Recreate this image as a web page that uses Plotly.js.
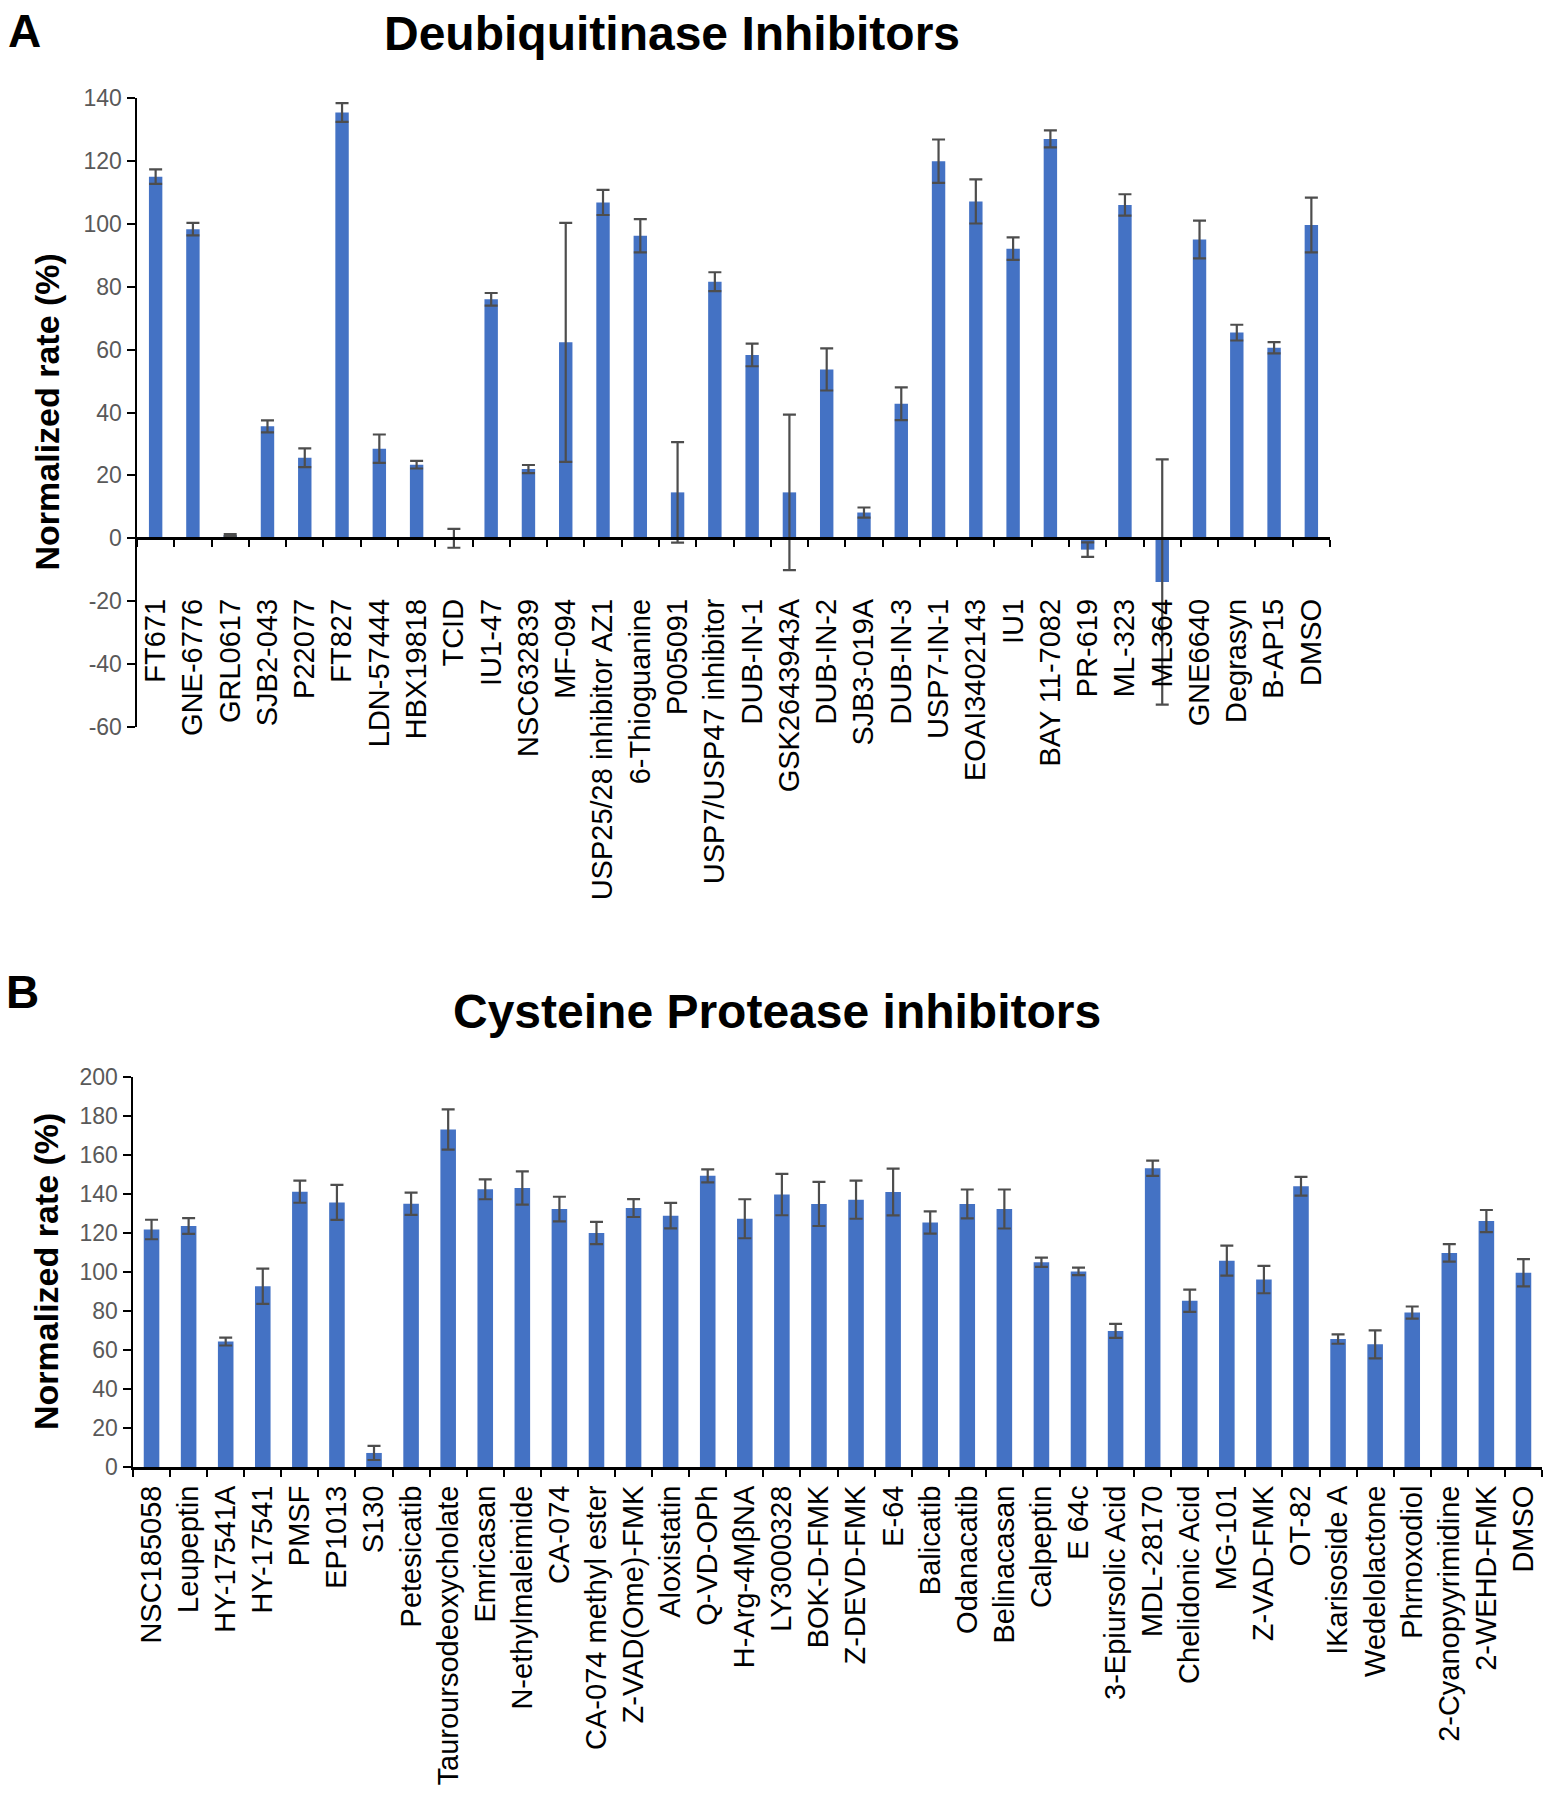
<!DOCTYPE html>
<html><head><meta charset="utf-8">
<script src="https://cdn.plot.ly/plotly-3.0.1.min.js"></script>
<style>html,body{margin:0;padding:0;background:#fff}</style>
</head><body><div id="chart" style="width:1544px;height:1800px"></div>
<script>
// Panel A: Deubiquitinase Inhibitors
const catsA = ["FT671","GNE-6776","GRL0617","SJB2-043","P22077","FT827","LDN-57444","HBX19818","TCID","IU1-47",
  "NSC632839","MF-094","USP25/28 inhibitor AZ1","6-Thioguanine","P005091","USP7/USP47 inhibitor","DUB-IN-1","GSK2643943A",
  "DUB-IN-2","SJB3-019A","DUB-IN-3","USP7-IN-1","EOAI3402143","IU1","BAY 11-7082","PR-619","ML-323","ML364",
  "GNE6640","Degrasyn","B-AP15","DMSO"];
const valsA = [115,98.3,1,35.6,25.6,135.4,28.5,23.4,0,76,
  22,62.3,106.8,96.2,14.6,81.6,58.3,14.6,
  53.7,8.2,42.8,119.9,107.1,92.1,127,-3.6,106,-13.9,
  95,65.4,60.6,99.6];
const errA = [2.3,2,0.3,1.9,3,3,4.5,1.2,3,2,
  1.3,38,4,5.3,16,3,3.6,24.7,
  6.7,1.6,5.2,6.9,7,3.6,2.7,2.3,3.4,39,
  6,2.5,1.8,8.7];
const yTickValsA = [-60,-40,-20,0,20,40,60,80,100,120,140];
const yTickTextA = ["-60","-40","-20","0","20","40","60","80","100","120","140"];

// Panel B: Cysteine Protease inhibitors
const catsB = ["NSC185058","Leupeptin","HY-17541A","HY-17541","PMSF","EP1013","S130","Petesicatib","Tauroursodeoxycholate",
  "Emricasan","N-ethylmaleimide","CA-074","CA-074 methyl ester","Z-VAD(Ome)-FMK","Aloxistatin","Q-VD-OPh","H-Arg-4MβNA",
  "LY3000328","BOK-D-FMK","Z-DEVD-FMK","E-64","Balicatib","Odanacatib","Belinacasan","Calpeptin","E 64c",
  "3-Epiursolic Acid","MDL-28170","Chelidonic Acid","MG-101","Z-VAD-FMK","OT-82","IKarisoside A","Wedelolactone",
  "Phrnoxodiol","2-Cyanopyyrimidine","2-WEHD-FMK","DMSO"];
const valsB = [121.8,123.6,64.3,92.7,141.2,135.7,7.2,135,173.1,
  142.4,143.1,132.3,120,132.8,128.9,149.3,127.3,
  139.7,134.9,137.1,141,125.4,134.9,132.3,105,100.3,
  69.8,153.2,85.3,105.8,96.1,144,65.6,62.9,
  79.2,109.8,126.1,99.6];
const errB = [5,4,2,9,5.7,9,3.6,5.7,10.3,
  5.1,8.5,6.3,5.7,4.6,6.5,3.3,10,
  10.6,11.3,9.8,12,5.7,7.4,10,2.4,1.9,
  3.6,3.9,5.7,7.7,7,4.8,2.4,7.2,
  3.1,4.5,5.7,7];

const titleA = "Deubiquitinase Inhibitors";
const titleB = "Cysteine Protease inhibitors";
const yTitle = "Normalized rate (%)";

const W = 1544, H = 1800;
const fx = x => x / W;
const fy = y => 1 - y / H;
const FONT = "Liberation Sans, Arial, sans-serif";
const BLUE = "#4472C4";
const ERR = "#4d4d4d";

const rangeA = [-60, 140];
const domA = [fy(727), fy(98)];
const zeroPosA = domA[0] + (0 - rangeA[0]) / (rangeA[1] - rangeA[0]) * (domA[1] - domA[0]);
const rangeB = [0, 200];
const domB = [fy(1467), fy(1077)];

const traces = [
  {type: "bar", x: catsA, y: valsA, xaxis: "x", yaxis: "y", width: 0.36,
   marker: {color: BLUE, line: {width: 0}},
   error_y: {type: "data", array: errA, visible: true, color: ERR, thickness: 2.2, width: 6.5},
   hoverinfo: "x+y"},
  {type: "bar", x: catsB, y: valsB, xaxis: "x2", yaxis: "y2", width: 0.42,
   marker: {color: BLUE, line: {width: 0}},
   error_y: {type: "data", array: errB, visible: true, color: ERR, thickness: 2.2, width: 6.5},
   hoverinfo: "x+y"}
];

const xCommon = {
  type: "category", showline: true, linecolor: "#000", linewidth: 3,
  ticks: "outside", tickson: "boundaries", ticklen: 7, tickwidth: 2, tickcolor: "#000",
  tickangle: -90, tickfont: {family: FONT, size: 29, color: "#000"},
  showgrid: false, zeroline: false, fixedrange: true
};
const yCommon = {
  showline: true, linecolor: "#000", linewidth: 2.5,
  ticks: "outside", ticklen: 8, tickwidth: 2, tickcolor: "#000",
  tick0: 0, dtick: 20, tickfont: {family: FONT, size: 23, color: "#595959"},
  showgrid: false, zeroline: false, fixedrange: true
};

const layout = {
  width: W, height: H,
  margin: {l: 0, r: 0, t: 0, b: 0},
  paper_bgcolor: "#fff", plot_bgcolor: "rgba(0,0,0,0)",
  showlegend: false,
  font: {family: FONT},
  xaxis: Object.assign({}, xCommon, {domain: [fx(137), fx(1330)], anchor: "free", position: zeroPosA, ticklabelstandoff: 47}),
  yaxis: Object.assign({}, yCommon, {domain: domA, range: rangeA, anchor: "x",
    tickmode: "array", tickvals: yTickValsA, ticktext: yTickTextA}),
  xaxis2: Object.assign({}, xCommon, {domain: [fx(133), fx(1542)], anchor: "y2", ticklabelstandoff: 4}),
  yaxis2: Object.assign({}, yCommon, {domain: domB, range: rangeB, anchor: "x2"}),
  annotations: [
    {text: "<b>A</b>", xref: "paper", yref: "paper", x: fx(24), y: fy(31), xanchor: "center", yanchor: "middle",
     borderpad: 0, showarrow: false, font: {family: FONT, size: 46, color: "#000"}},
    {text: "<b>B</b>", xref: "paper", yref: "paper", x: fx(22), y: fy(992), xanchor: "center", yanchor: "middle",
     borderpad: 0, showarrow: false, font: {family: FONT, size: 46, color: "#000"}},
    {text: "<b>" + titleA + "</b>", xref: "paper", yref: "paper", x: fx(672), y: fy(34), xanchor: "center", yanchor: "middle",
     showarrow: false, font: {family: FONT, size: 48, color: "#000"}},
    {text: "<b>" + titleB + "</b>", xref: "paper", yref: "paper", x: fx(777), y: fy(1012), xanchor: "center", yanchor: "middle",
     showarrow: false, font: {family: FONT, size: 48, color: "#000"}},
    {text: "<b>" + yTitle + "</b>", xref: "paper", yref: "paper", x: fx(46), y: (domA[0] + domA[1]) / 2, xanchor: "center", yanchor: "middle",
     textangle: -90, showarrow: false, font: {family: FONT, size: 34, color: "#000"}},
    {text: "<b>" + yTitle + "</b>", xref: "paper", yref: "paper", x: fx(46), y: (domB[0] + domB[1]) / 2, xanchor: "center", yanchor: "middle",
     textangle: -90, showarrow: false, font: {family: FONT, size: 34, color: "#000"}}
  ]
};

Plotly.newPlot("chart", traces, layout, {staticPlot: true, displayModeBar: false});
</script>
</body></html>
